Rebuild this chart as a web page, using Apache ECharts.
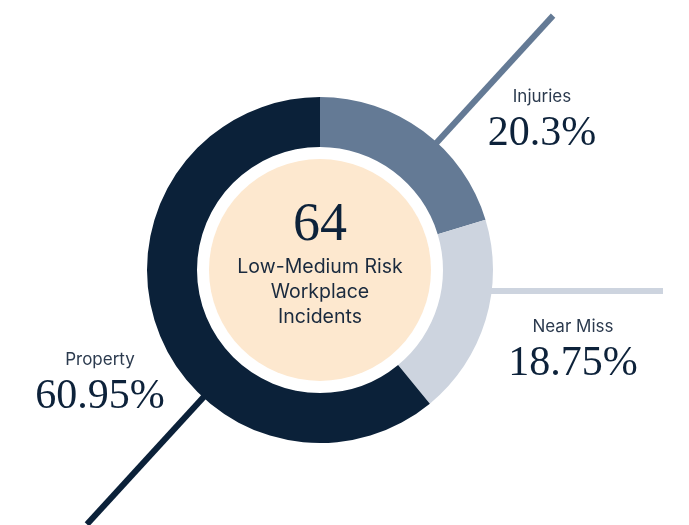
<!DOCTYPE html>
<html>
<head>
<meta charset="utf-8">
<style>
  html, body { margin: 0; padding: 0; background: #ffffff; }
  #chart { width: 689px; height: 525px; }
</style>
<script src="https://cdn.jsdelivr.net/npm/echarts@6/dist/echarts.min.js"></script>
</head>
<body>
<div id="chart"></div>
<script>
// Incident categories and their shares (%)
const categories = ['Injuries', 'Near Miss', 'Property'];
const shares = [20.3, 18.75, 60.95];
const sliceColors = ['#647a95', '#cdd4df', '#0b2139'];
const totalIncidents = 64;
const centerTitle = 'Low-Medium Risk\nWorkplace\nIncidents';

const chart = echarts.init(document.getElementById('chart'));

const cx = 320, cy = 270;
const rOuter = 173, rInner = 123, rCore = 111;
const serif = '"Liberation Serif", "DejaVu Serif", serif';
const sans = 'Inter, "Liberation Sans", sans-serif';
const ink = '#0d223a';
const soft = '#2b3a4e';

// Diagonal guide through the centre, drawn only outside the ring
const diagAngle = 47.5 * Math.PI / 180;
const diagLen = 345;
function ray(angle, r0, r1) {
  return {
    x1: cx + r0 * Math.cos(angle), y1: cy - r0 * Math.sin(angle),
    x2: cx + r1 * Math.cos(angle), y2: cy - r1 * Math.sin(angle)
  };
}

function label(name, value, x, y) {
  return [
    { type: 'text', x: x, y: y, style: {
        text: name, font: '400 17px ' + sans, fill: soft,
        textAlign: 'center', textVerticalAlign: 'middle' } },
    { type: 'text', x: x, y: y + 37, style: {
        text: value + '%', font: '400 42px ' + serif, fill: ink,
        textAlign: 'center', textVerticalAlign: 'middle' } }
  ];
}

chart.setOption({
  backgroundColor: '#ffffff',
  animation: false,
  graphic: [
    { type: 'line', z: 0, shape: ray(diagAngle, rOuter - 4, diagLen),
      style: { stroke: sliceColors[0], lineWidth: 6 } },
    { type: 'line', z: 0, shape: ray(diagAngle + Math.PI, rOuter - 4, diagLen),
      style: { stroke: sliceColors[2], lineWidth: 6 } },
    { type: 'line', z: 0, shape: { x1: cx + rOuter - 4, y1: cy + 21, x2: 663, y2: cy + 21 },
      style: { stroke: sliceColors[1], lineWidth: 6 } },
    ...label(categories[0], shares[0], 542, 97),
    ...label(categories[1], shares[1], 573, 327),
    ...label(categories[2], shares[2], 100, 360),
    { type: 'text', z: 10, x: cx, y: 226, style: {
        text: String(totalIncidents), font: '400 54px ' + serif, fill: ink,
        textAlign: 'center', textVerticalAlign: 'middle' } },
    { type: 'text', z: 10, x: cx, y: 292, style: {
        text: centerTitle, font: '400 19.5px ' + sans, fill: '#1a2a3e',
        lineHeight: 25, textAlign: 'center', textVerticalAlign: 'middle' } }
  ],
  series: [
    {
      type: 'pie',
      center: [cx, cy],
      radius: [rInner, rOuter],
      startAngle: 90,
      clockwise: true,
      silent: true,
      label: { show: false },
      labelLine: { show: false },
      itemStyle: { borderWidth: 0 },
      data: categories.map((c, i) => ({
        name: c, value: shares[i], itemStyle: { color: sliceColors[i] }
      }))
    },
    {
      type: 'pie',
      center: [cx, cy],
      radius: [0, rCore],
      silent: true,
      label: { show: false },
      labelLine: { show: false },
      data: [{ value: 1, itemStyle: { color: '#fde8cf' } }]
    }
  ]
});
</script>
</body>
</html>
